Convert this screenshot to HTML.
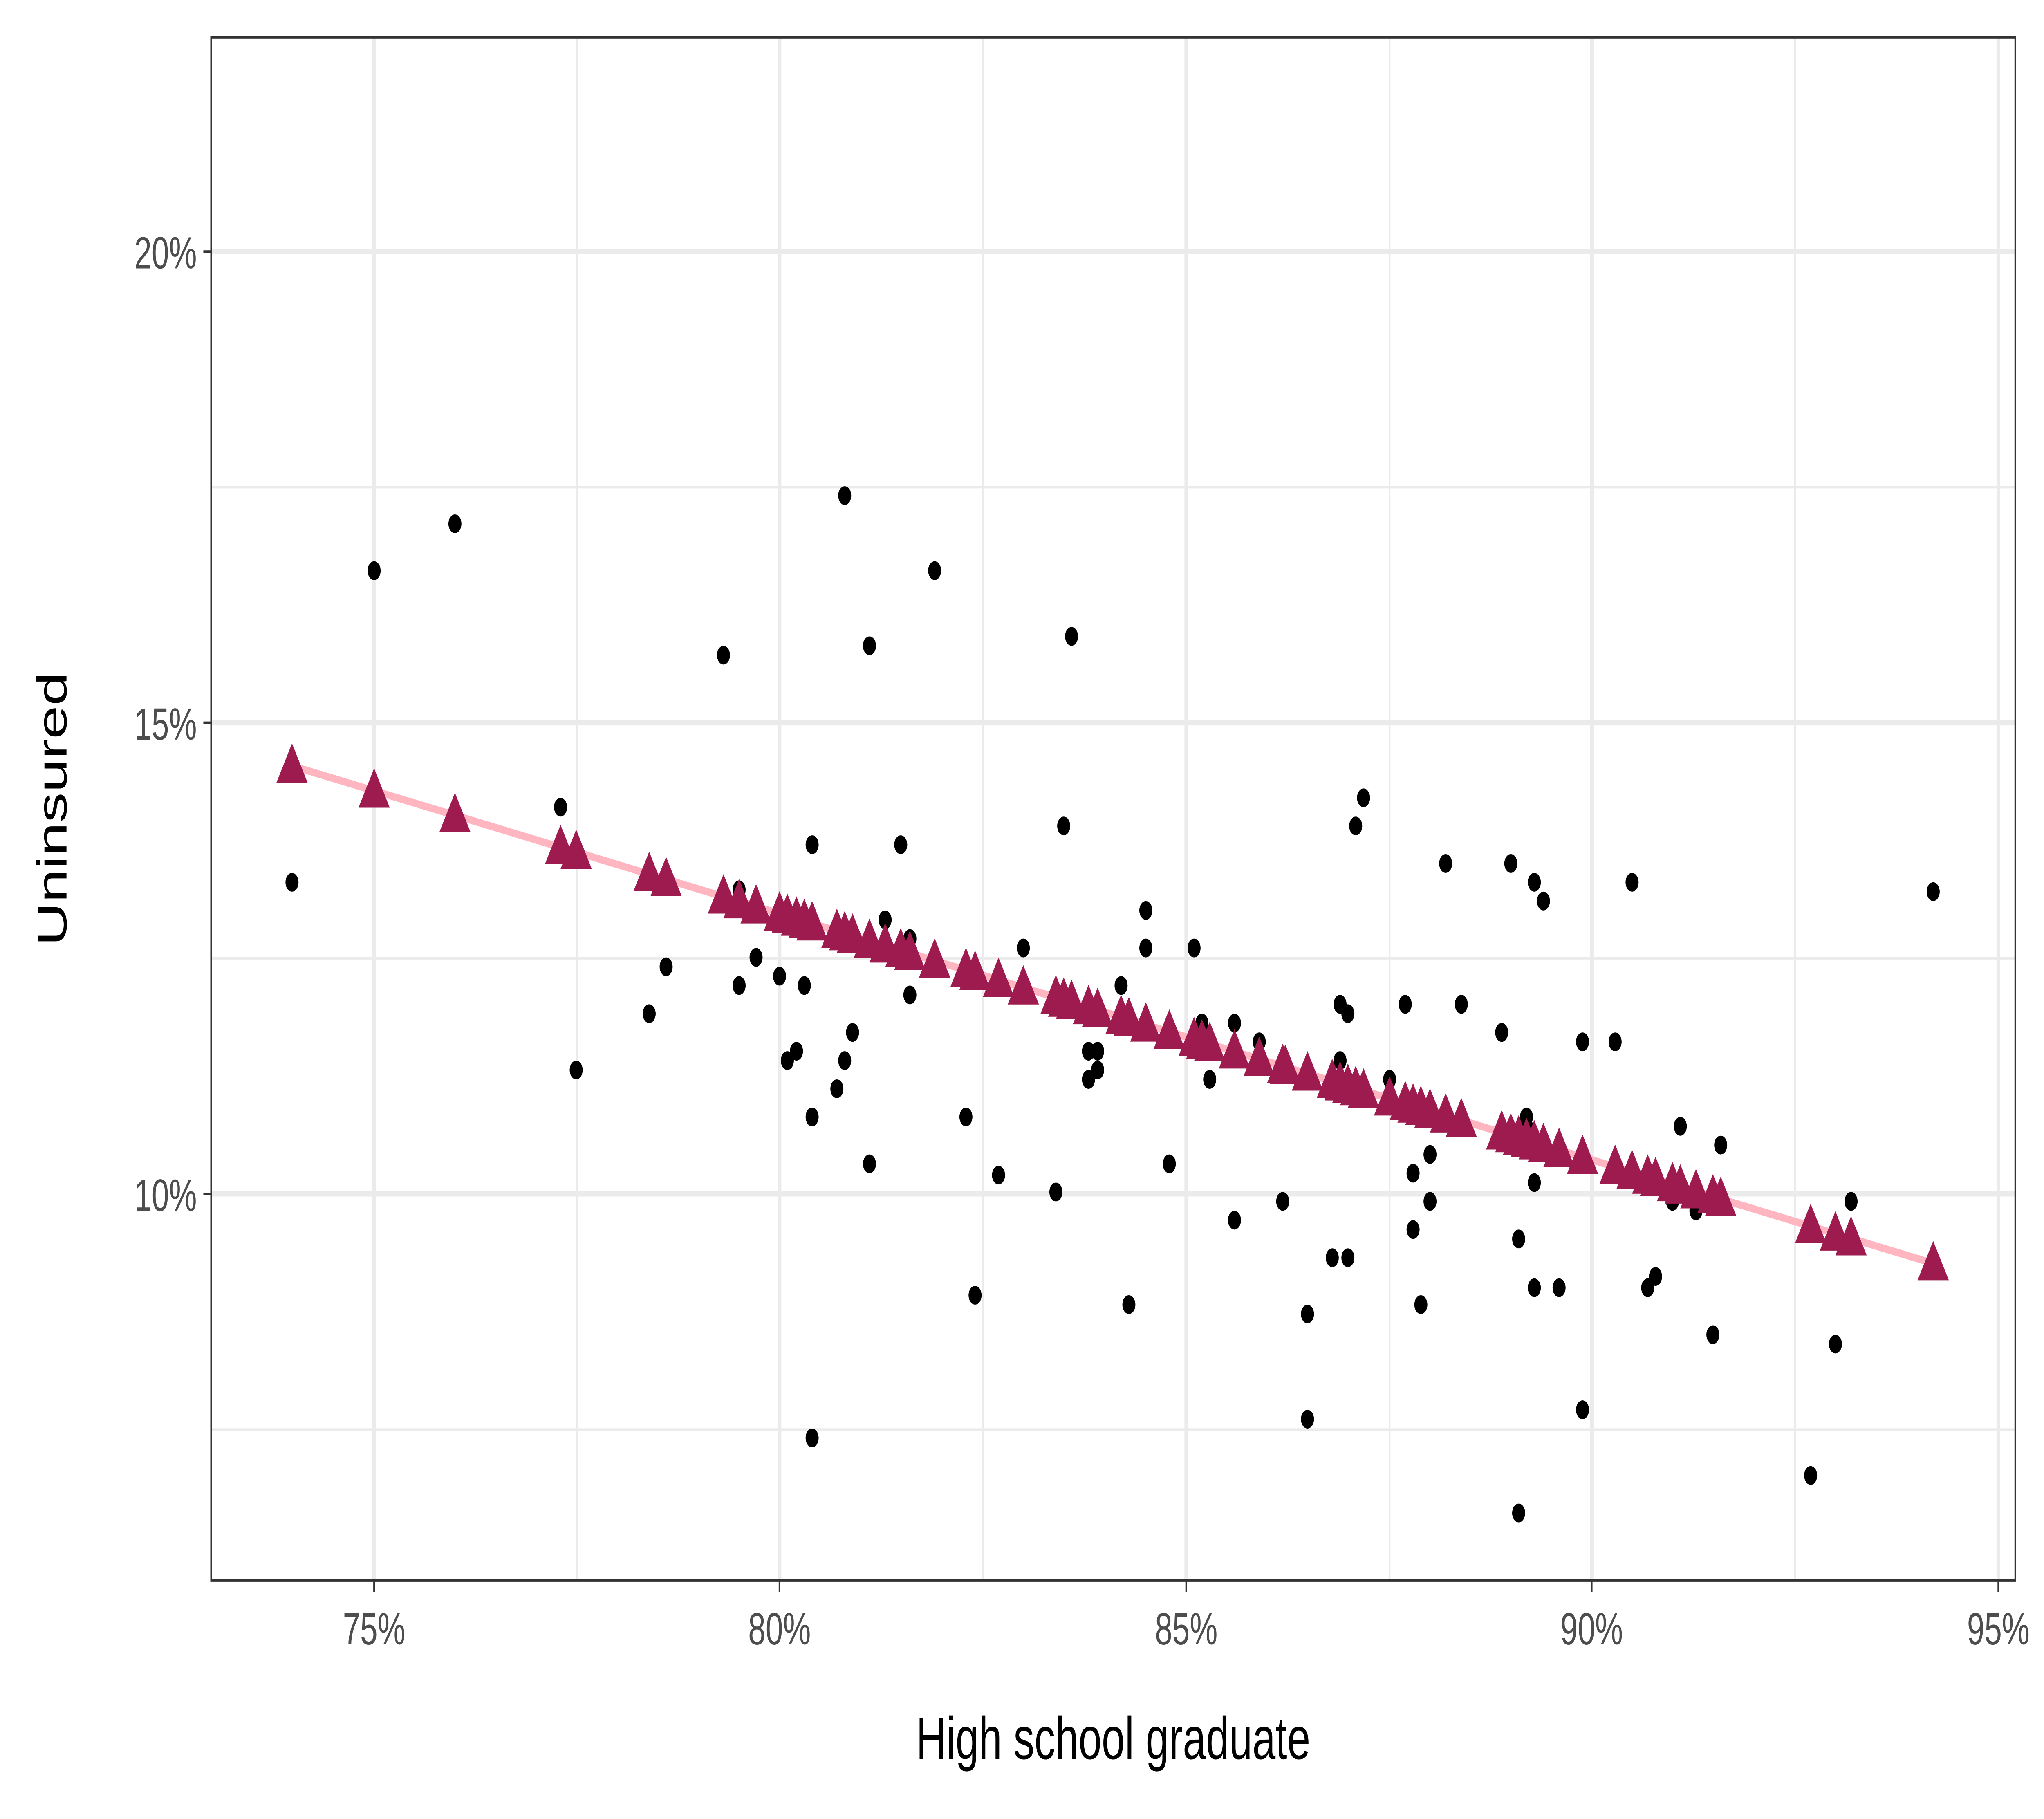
<!DOCTYPE html>
<html><head><meta charset="utf-8"><style>html,body{margin:0;padding:0;background:#fff;width:100%;height:100%;overflow:hidden}svg{display:block;position:fixed;left:0;top:0;width:100vw;height:100vh}</style></head>
<body>
<svg xmlns="http://www.w3.org/2000/svg" viewBox="0 0 1568 969" preserveAspectRatio="none" font-family="Liberation Sans, sans-serif">
<rect width="1568" height="969" fill="#fff"/>
<g stroke="#ebebeb" stroke-width="1.3">
<line x1="162" x2="1546" y1="259.5" y2="259.5"/><line x1="162" x2="1546" y1="510.5" y2="510.5"/><line x1="162" x2="1546" y1="761.5" y2="761.5"/>
<line y1="20" y2="842" x1="442.5" x2="442.5"/><line y1="20" y2="842" x1="754" x2="754"/><line y1="20" y2="842" x1="1066" x2="1066"/><line y1="20" y2="842" x1="1377" x2="1377"/>
</g>
<g stroke="#ebebeb" stroke-width="2.8">
<line x1="162" x2="1546" y1="134" y2="134"/><line x1="162" x2="1546" y1="385" y2="385"/><line x1="162" x2="1546" y1="636" y2="636"/>
<line y1="20" y2="842" x1="287" x2="287"/><line y1="20" y2="842" x1="598" x2="598"/><line y1="20" y2="842" x1="910" x2="910"/><line y1="20" y2="842" x1="1221" x2="1221"/><line y1="20" y2="842" x1="1533" x2="1533"/>
</g>
<g id="dots"></g>
<line x1="224" y1="408" x2="1483" y2="673" stroke="#ffb6c1" stroke-width="4"/>
<g id="tris" fill="#9e1b4f"></g>
<rect x="162" y="20" width="1384" height="822" fill="none" stroke="#333" stroke-width="1.3"/>
<g stroke="#333" stroke-width="1.3">
<line x1="156" x2="162" y1="134" y2="134"/><line x1="156" x2="162" y1="385" y2="385"/><line x1="156" x2="162" y1="636" y2="636"/>
<line y1="842" y2="848" x1="287" x2="287"/><line y1="842" y2="848" x1="598" x2="598"/><line y1="842" y2="848" x1="910" x2="910"/><line y1="842" y2="848" x1="1221" x2="1221"/><line y1="842" y2="848" x1="1533" x2="1533"/>
</g>
<g fill="#4d4d4d" font-size="24" text-anchor="end">
<text x="151" y="143">20%</text><text x="151" y="394">15%</text><text x="151" y="645">10%</text>
</g>
<g fill="#4d4d4d" font-size="24" text-anchor="middle">
<text x="287" y="876">75%</text><text x="598" y="876">80%</text><text x="910" y="876">85%</text><text x="1221" y="876">90%</text><text x="1533" y="876">95%</text>
</g>
<text x="854" y="937" font-size="32" text-anchor="middle" fill="#000">High school graduate</text>
<text transform="translate(51,431) rotate(-90)" font-size="32" text-anchor="middle" fill="#000">Uninsured</text>
</svg>
<script>
var d=[[224,470],[287,304],[349,279],[430,430],[442,570],[498,540],[511,515],[555,349],[567,474],[567,525],[580,510],[598,520],[604,565],[611,560],[617,525],[623,450],[623,595],[623,766],[642,580],[648,565],[654,550],[648,264],[667,344],[667,620],[679,490],[691,450],[698,500],[698,530],[717,304],[741,595],[748,690],[766,626],[785,505],[810,635],[816,440],[822,339],[835,575],[835,560],[842,560],[842,570],[860,525],[866,695],[879,505],[879,485],[897,620],[916,505],[922,545],[928,575],[947,650],[947,545],[966,555],[984,640],[1003,700],[1003,756],[1022,670],[1028,535],[1028,565],[1034,540],[1034,670],[1040,440],[1046,425],[1066,575],[1078,535],[1084,625],[1084,655],[1090,695],[1097,640],[1097,615],[1109,460],[1121,535],[1152,550],[1159,460],[1165,660],[1165,806],[1171,595],[1177,470],[1177,630],[1177,686],[1184,480],[1196,686],[1214,555],[1214,751],[1239,555],[1252,470],[1264,686],[1270,680],[1283,640],[1289,600],[1301,645],[1314,711],[1320,610],[1389,786],[1408,716],[1420,640],[1483,475],[1171,600],[986,570]];
var NS="http://www.w3.org/2000/svg",g=document.getElementById("dots"),t=document.getElementById("tris"),seen={};
d.forEach(function(p){var c=document.createElementNS(NS,"circle");c.setAttribute("cx",p[0]);c.setAttribute("cy",p[1]);c.setAttribute("r",5);g.appendChild(c);});
d.forEach(function(p){var x=p[0];if(seen[x])return;seen[x]=1;var y=408+(x-224)*0.2105;var q=document.createElementNS(NS,"path");q.setAttribute("d","M"+x+","+(y-12)+"L"+(x+12)+","+(y+9)+"L"+(x-12)+","+(y+9)+"Z");t.appendChild(q);});
</script>
</body></html>
